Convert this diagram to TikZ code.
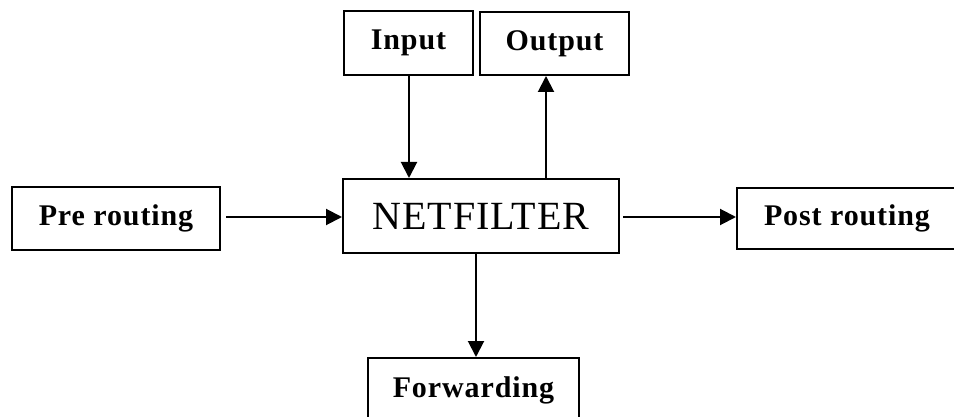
\documentclass[tikz,border=0pt]{standalone}
\usepackage{fontspec}
\setmainfont{Liberation Serif}
\usepackage{tikz}
\usetikzlibrary{arrows.meta}
\tikzset{
    hook-box/.style = {draw=black, fill=white, line width=1pt, rectangle, inner sep=0pt, font=\fontsize{15}{17}\selectfont\bfseries\addfontfeatures{LetterSpace=3}},
    core-box/.style = {draw=black, fill=white, line width=1pt, rectangle, inner sep=0pt, font=\fontsize{20}{23}\selectfont\addfontfeatures{LetterSpace=2}},
    flow/.style = {line width=1pt, -{Triangle[length=8pt, width=8pt]}},
}

\begin{document}
\begin{tikzpicture}[x=0.5pt, y=-0.5pt]
\useasboundingbox (0,0) rectangle (954,417);
% hooks around the filter
\node [hook-box, minimum width=64.5pt, minimum height=32pt] (input) at (408.5,43) {Input};
\node [hook-box, minimum width=74.5pt, minimum height=31.5pt] (output) at (554.5,43.5) {Output};
\node [core-box, minimum width=138pt, minimum height=37pt] (netfilter) at (481,216) {NETFILTER};
\node [hook-box, minimum width=104pt, minimum height=31.5pt] (pre) at (116,218.5) {Pre routing};
\node [hook-box, minimum width=110pt, minimum height=30.5pt] (post) at (847,218.5) {Post routing};
\node [hook-box, minimum width=105.5pt, minimum height=32pt] (fwd) at (473.5,390) {Forwarding};

% packet paths
\draw [flow] (input.south -| 409,0) -- (netfilter.north -| 409,0);
\draw [flow] (netfilter.north -| 546,0) -- (output.south -| 546,0);
\draw [flow, shorten <=2.5pt] (pre.east |- 0,217) -- (netfilter.west |- 0,217);
\draw [flow, shorten <=1.5pt] (netfilter.east |- 0,217) -- (post.west |- 0,217);
\draw [flow] (netfilter.south -| 476,0) -- (fwd.north -| 476,0);
\end{tikzpicture}
\end{document}
